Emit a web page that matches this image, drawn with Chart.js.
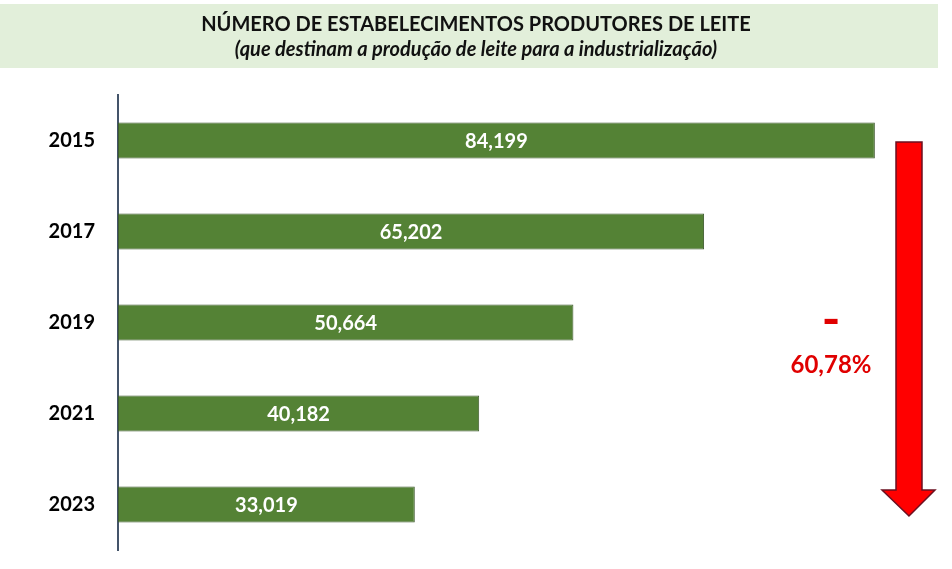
<!DOCTYPE html>
<html>
<head>
<meta charset="utf-8">
<script src="https://cdn.jsdelivr.net/npm/chart.js@4/dist/chart.umd.min.js"></script>
<style>
  html, body { margin: 0; padding: 0; background: #fff; overflow: hidden; }
  canvas { display: block; }
</style>
</head>
<body>
<canvas id="grafico" width="952" height="569" style="width:952px;height:569px"></canvas>
<script>
// Dados
const anos = ['2015', '2017', '2019', '2021', '2023'];
const estabelecimentos = [84199, 65202, 50664, 40182, 33019];
const titulo = 'NÚMERO DE ESTABELECIMENTOS PRODUTORES DE LEITE';
const subtitulo = '(que destinam a produção de leite para a industrialização)';
const variacao = ['-', '60,78%'];

const fonte = 'Lato, "Open Sans", sans-serif';

function formatar(v) {
    return String(v).replace(/\B(?=(\d{3})+(?!\d))/g, ',');
}

// Faixa do título e seta vermelha
const decoracao = {
    id: 'decoracao',
    beforeDraw(chart) {
        const ctx = chart.ctx;
        ctx.save();
        ctx.fillStyle = '#e2efda';
        ctx.fillRect(0, 4, 938, 64);
        ctx.fillStyle = '#111';
        ctx.textAlign = 'center';
        ctx.textBaseline = 'middle';
        ctx.font = 'bold 20px ' + fonte;
        ctx.fillText(titulo, 476, 25);
        ctx.font = 'italic bold 20px ' + fonte;
        ctx.fillText(subtitulo, 476, 50);
        ctx.restore();
    },
    afterDraw(chart) {
        const ctx = chart.ctx;
        ctx.save();
        // seta
        ctx.beginPath();
        ctx.moveTo(896, 142);
        ctx.lineTo(922, 142);
        ctx.lineTo(922, 490);
        ctx.lineTo(935, 490);
        ctx.lineTo(909, 516);
        ctx.lineTo(882, 490);
        ctx.lineTo(896, 490);
        ctx.closePath();
        ctx.fillStyle = '#ff0000';
        ctx.fill();
        ctx.strokeStyle = '#6b1020';
        ctx.lineWidth = 1.5;
        ctx.stroke();
        // percentual
        ctx.fillStyle = '#e00000';
        ctx.textAlign = 'center';
        ctx.textBaseline = 'middle';
        ctx.font = 'bold 50px ' + fonte;
        ctx.fillText(variacao[0], 831, 321);
        ctx.font = 'bold 24px ' + fonte;
        ctx.fillText(variacao[1], 831, 365);
        ctx.restore();
    }
};

// Valores dentro das barras
const rotulos = {
    id: 'rotulos',
    afterDatasetsDraw(chart) {
        const ctx = chart.ctx;
        const meta = chart.getDatasetMeta(0);
        ctx.save();
        ctx.fillStyle = '#ffffff';
        ctx.textAlign = 'center';
        ctx.textBaseline = 'middle';
        ctx.font = 'bold 20px ' + fonte;
        meta.data.forEach((bar, i) => {
            ctx.fillText(formatar(estabelecimentos[i]), (bar.base + bar.x) / 2, bar.y + 1);
        });
        ctx.restore();
    }
};

new Chart(document.getElementById('grafico'), {
    type: 'bar',
    data: {
        labels: anos,
        datasets: [{
            data: estabelecimentos,
            backgroundColor: '#548235',
            borderColor: '#3e5a2e',
            borderWidth: 1,
            borderSkipped: false,
            barPercentage: 0.8,
            categoryPercentage: 0.495
        }]
    },
    options: {
        indexAxis: 'y',
        responsive: false,
        animation: false,
        layout: { padding: { top: 95, bottom: 19, left: 0, right: 25 } },
        plugins: {
            legend: { display: false },
            tooltip: { enabled: false }
        },
        scales: {
            x: {
                display: false,
                min: 0,
                max: 90000
            },
            y: {
                grid: { display: false, drawTicks: true, tickLength: 23 },
                border: { display: true, color: '#44546a', width: 2 },
                ticks: {
                    color: '#000',
                    padding: 0,
                    font: { family: fonte, size: 20, weight: 'bold' }
                },
                afterFit(scale) { scale.width = 118; }
            }
        }
    },
    plugins: [decoracao, rotulos]
});
</script>
</body>
</html>
